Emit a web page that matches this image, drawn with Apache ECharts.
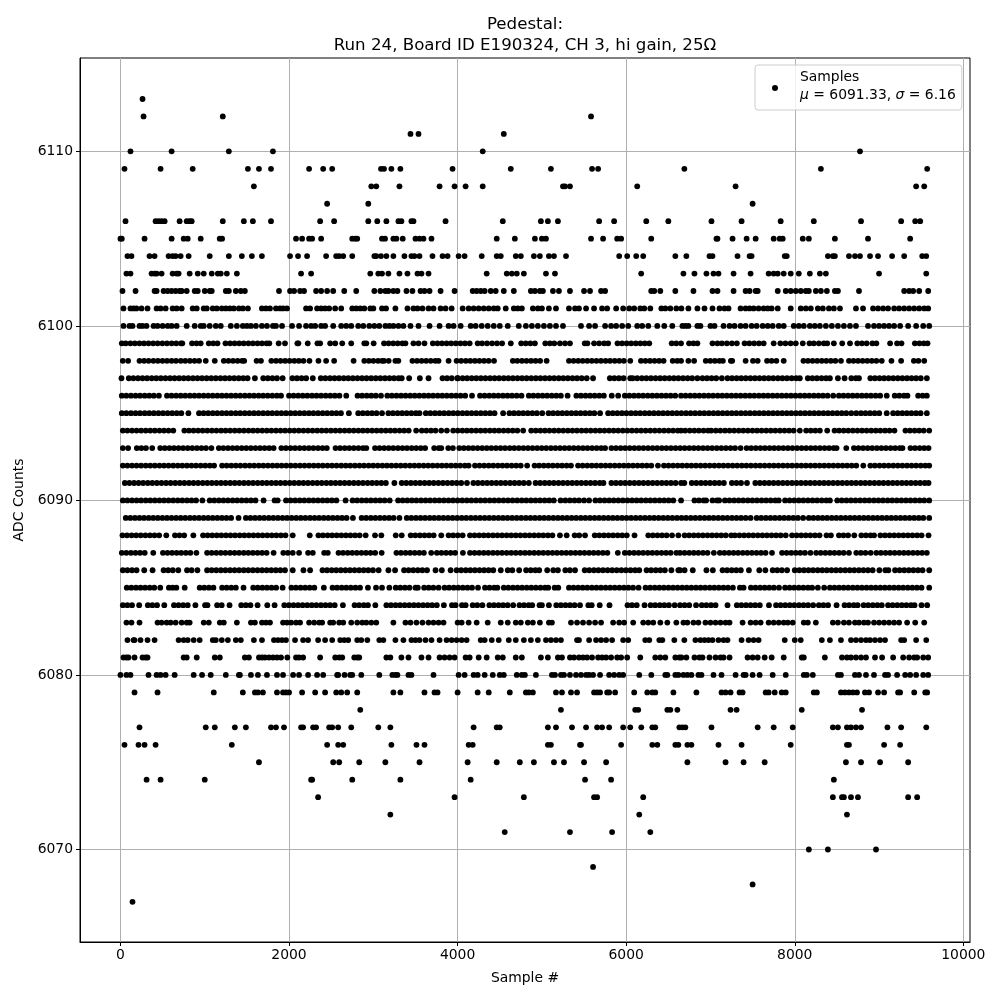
<!DOCTYPE html>
<html><head><meta charset="utf-8">
<style>html,body{margin:0;padding:0;background:#fff}#c{width:1000px;height:1000px}</style>
<script src="https://cdn.jsdelivr.net/npm/echarts@6/dist/echarts.min.js"></script>
</head><body><div id="c"></div>
<script>
const xTicks=[0,2000,4000,6000,8000,10000];
const yTicks=[6070,6080,6090,6100,6110];
const x6113=[262];
const x6112=[274,1214,5583];
const x6111=[3441,3536,4548];
const x6110=[119,607,1286,1809,4298,8774];
const x6109=[48,476,857,1512,1643,1786,2238,2405,2512,3091,3127,3214,3321,3940,4631,5107,5595,5667,6690,8310,9571];
const x6108=[1583,2976,3035,3310,3786,3964,4095,4298,5250,5274,5333,6131,7298,9440,9536];
const x6107=[2452,2940,7500];
const x6106=[60,417,452,488,524,702,786,821,845,1214,1464,1571,1786,2369,2535,2940,3047,3155,3298,3333,3452,3476,3857,4536,4988,5071,5190,5679,5857,6238,6500,7012,7369,7833,8226,8786,9262,9429,9488];
const x6105=[0,16,286,607,750,798,952,1178,1206,2083,2155,2238,2274,2381,2750,2785,2809,3103,3139,3238,3274,3349,3500,3548,3595,3690,4464,4679,4917,5000,5048,5583,5726,5893,5940,6297,7071,7083,7262,7429,7536,7750,7821,7857,8095,8167,8476,8869,9369];
const x6104=[83,131,345,405,571,619,655,714,809,1059,1286,1440,1559,1678,2012,2107,2214,2440,2559,2595,2643,2750,3012,3035,3091,3155,3238,3369,3452,3488,3548,3702,3821,3881,4012,4083,4286,4464,4512,4690,4750,4905,4976,5083,5143,5286,5917,6012,6119,6202,6583,6714,6988,7024,7321,7464,7488,7881,7905,8393,8452,8476,8643,8714,8774,8893,8988,9155,9298,9512,9560];
const x6103=[71,119,369,405,429,488,619,667,690,821,917,988,1083,1155,1190,1262,1381,2143,2262,2964,3059,3103,3179,3310,3405,3524,3571,3655,4345,4583,4643,4702,4786,5048,5155,6178,6679,6810,6952,7036,7095,7274,7476,7690,7750,7798,7869,7952,8048,8179,8298,8369,9000,9560];
const x6102=[24,179,405,429,512,560,607,655,702,726,786,881,917,1000,1059,1083,1250,1286,1369,1428,1476,1881,2012,2060,2131,2178,2321,2381,2452,2524,2655,2797,3012,3083,3143,3179,3238,3286,3393,3464,3560,3607,3667,3798,3964,4179,4226,4274,4321,4393,4452,4548,4667,4869,4917,4976,5012,5131,5202,5333,5500,5571,5702,5750,6297,6333,6405,6583,6798,7024,7083,7274,7417,7464,7536,7560,7798,7893,7952,8012,8071,8131,8167,8250,8310,8381,8476,8512,8762,9298,9357,9405,9476,9583];
const x6101=[36,119,155,190,250,321,429,476,536,619,667,726,857,905,988,1024,1095,1143,1202,1250,1298,1345,1405,1452,1512,1678,1726,1774,1845,1893,1929,1976,2202,2250,2333,2381,2428,2476,2547,2619,2750,2797,2845,2893,2964,3000,3103,3151,3262,3405,3476,3524,3583,3655,3714,3798,3857,3929,4060,4131,4190,4250,4310,4369,4429,4476,4571,4667,4714,4762,4893,4952,5000,5083,5167,5321,5393,5440,5524,5619,5714,5774,5881,5964,6036,6095,6167,6214,6286,6417,6464,6524,6595,6655,6738,6845,6929,7024,7107,7167,7214,7357,7417,7464,7512,7571,7631,7679,7726,7798,7952,8071,8131,8190,8274,8333,8405,8464,8536,8726,8810,8929,8988,9048,9107,9179,9238,9298,9357,9417,9476,9536,9583];
const x6100=[36,107,143,226,262,309,393,440,500,560,607,667,786,881,952,988,1059,1131,1190,1309,1381,1452,1500,1548,1607,1678,1738,1809,1845,1917,2036,2119,2202,2262,2310,2381,2428,2524,2619,2679,2738,2821,2881,2952,3012,3071,3143,3190,3238,3298,3357,3441,3536,3667,3786,3893,3952,4036,4155,4214,4286,4357,4429,4500,4595,4726,4810,4881,4952,5024,5095,5167,5250,5464,5560,5631,5750,5821,5881,5952,6024,6131,6190,6262,6369,6452,6547,6667,6702,6738,6845,6881,7000,7048,7155,7226,7286,7357,7417,7488,7548,7619,7679,7738,7810,7869,7988,8048,8107,8179,8238,8298,8369,8440,8512,8583,8655,8726,8869,8940,9000,9060,9119,9179,9250,9345,9440,9524,9595];
const x6099=[16,62,118,171,226,279,333,388,441,497,552,608,662,718,734,849,902,952,1048,1101,1151,1246,1301,1354,1409,1462,1518,1571,1626,1679,1733,1766,1877,1952,2099,2111,2222,2337,2369,2488,2548,2631,2738,2893,2917,3004,3127,3181,3236,3289,3344,3381,3476,3536,3607,3706,3761,3814,3869,3923,3978,4033,4087,4143,4238,4290,4349,4409,4468,4528,4631,4754,4808,4863,4917,5040,5095,5147,5214,5274,5333,5508,5540,5619,5679,5738,5786,5897,5951,6006,6059,6114,6168,6221,6274,6540,6594,6651,6746,6798,6845,7024,7083,7135,7194,7254,7313,7405,7461,7518,7575,7631,7750,7829,7889,7951,8012,8095,8175,8226,8286,8345,8385,8464,8563,8655,8742,8797,8853,8921,8968,9131,9214,9266,9425,9479,9531,9575];
const x6098=[28,91,226,281,334,391,444,499,553,607,659,716,769,824,879,933,1012,1119,1226,1281,1336,1390,1444,1468,1615,1667,1790,1846,1899,1954,2007,2063,2116,2171,2242,2349,2440,2535,2766,2893,2947,3001,3056,3103,3127,3182,3262,3297,3464,3519,3573,3627,3681,3736,3774,3893,3988,4042,4098,4151,4205,4259,4314,4368,4432,4655,4708,4763,4817,4871,4925,4979,5056,5321,5376,5431,5484,5539,5592,5647,5701,5756,5809,5864,5918,5972,6048,6175,6229,6283,6337,6391,6444,6552,6606,6651,6738,6806,6944,6998,7052,7106,7147,7242,7258,7417,7504,7560,7671,7725,7782,7869,8103,8157,8211,8266,8320,8374,8428,8482,8548,8643,8697,8751,8805,8860,8914,8968,9032,9147,9262,9413,9467,9536];
const x6097=[12,99,153,208,262,316,371,425,479,534,588,642,697,751,805,860,914,968,1023,1077,1131,1186,1240,1294,1349,1403,1457,1508,1595,1694,1748,1803,1857,1924,2040,2094,2149,2203,2282,2377,2431,2486,2540,2594,2649,2703,2757,2812,2866,2920,2975,3029,3083,3138,3192,3246,3300,3337,3425,3552,3655,3821,3875,3930,3996,4004,4059,4113,4167,4222,4276,4330,4385,4439,4493,4548,4602,4656,4711,4765,4819,4874,4928,4982,5037,5091,5145,5200,5254,5308,5363,5417,5472,5532,5607,5806,5860,5914,5969,6048,6077,6131,6186,6240,6294,6349,6403,6457,6512,6566,6620,6675,6729,6783,6845,6905,6959,7013,7068,7135,7202,7256,7311,7365,7419,7474,7528,7582,7637,7691,7745,7800,7854,7908,7963,8017,8060,8155,8209,8263,8318,8372,8417,8512,8591,8671,8725,8762,8897,8951,9006,9060,9114,9169,9223,9277,9332,9386,9440,9495,9567];
const x6096=[16,70,125,179,233,288,342,396,456,552,606,661,715,769,824,878,932,987,1041,1095,1150,1204,1258,1313,1367,1421,1476,1530,1584,1639,1693,1747,1802,1856,1905,2000,2054,2109,2163,2217,2272,2326,2380,2435,2489,2543,2598,2679,2813,2867,2922,2976,3030,3091,3166,3220,3275,3329,3383,3438,3492,3546,3601,3655,3709,3764,3818,3872,3927,3981,4035,4090,4171,4266,4320,4375,4429,4483,4538,4592,4646,4701,4758,4845,4899,4954,5008,5062,5117,5171,5225,5305,5409,5463,5518,5572,5626,5681,5735,5829,5905,5984,6038,6093,6147,6201,6256,6310,6364,6419,6473,6527,6582,6651,6705,6760,6814,6868,6923,6977,7031,7086,7140,7194,7249,7303,7357,7412,7466,7520,7575,7629,7683,7738,7792,7846,7901,7955,8009,8064,8118,8172,8227,8281,8335,8390,8456,8524,8578,8633,8687,8741,8796,8850,8904,8959,9013,9091,9186,9240,9295,9337,9464,9518,9567];
const x6095=[16,70,125,179,233,288,342,396,451,505,559,614,668,722,806,932,986,1041,1095,1149,1204,1258,1312,1367,1421,1475,1530,1584,1638,1693,1747,1801,1856,1910,1964,2019,2073,2127,2182,2236,2290,2345,2399,2453,2508,2562,2616,2710,2821,2875,2930,2984,3038,3103,3179,3233,3288,3342,3396,3451,3505,3548,3623,3677,3732,3786,3840,3895,3949,4003,4058,4112,4166,4221,4275,4329,4384,4438,4540,4615,4669,4724,4778,4832,4887,4941,5004,5079,5133,5188,5242,5296,5351,5405,5459,5514,5568,5622,5690,5786,5840,5895,5949,6003,6058,6112,6166,6221,6275,6329,6384,6438,6492,6547,6601,6655,6710,6764,6818,6873,6927,6981,7036,7090,7144,7199,7253,7307,7362,7416,7470,7525,7579,7633,7688,7742,7796,7851,7905,7959,8014,8068,8122,8177,8231,8285,8340,8394,8448,8503,8557,8611,8671,8730,8785,8839,8893,8948,9002,9091,9167,9221,9276,9330,9384,9439,9493,9567];
const x6094=[28,82,137,191,245,300,354,408,463,517,571,627,758,812,867,921,975,1030,1084,1138,1193,1247,1301,1356,1410,1464,1519,1573,1627,1682,1736,1790,1845,1899,1953,2008,2062,2116,2171,2225,2279,2334,2388,2442,2497,2551,2605,2660,2714,2768,2823,2877,2931,2986,3040,3094,3149,3203,3257,3312,3366,3420,3508,3575,3629,3684,3738,3806,3873,3948,4002,4057,4111,4165,4220,4274,4328,4383,4437,4491,4546,4600,4654,4709,4778,4873,4927,4982,5036,5090,5145,5199,5253,5308,5362,5416,5471,5525,5579,5634,5688,5742,5797,5851,5905,5960,6014,6068,6123,6177,6231,6286,6340,6394,6449,6503,6557,6612,6651,6700,6755,6809,6863,6918,6972,7008,7063,7117,7172,7226,7280,7335,7389,7443,7498,7552,7606,7661,7715,7769,7824,7878,7932,7987,8060,8135,8189,8244,8298,8385,8472,8526,8581,8635,8689,8744,8798,8852,8907,8961,9015,9070,9124,9183,9313,9367,9422,9476,9530,9595];
const x6093=[28,91,194,248,303,377,472,526,581,635,689,744,798,852,907,961,1015,1079,1167,1221,1276,1330,1384,1439,1493,1547,1602,1656,1710,1765,1817,1909,1963,2018,2072,2126,2181,2235,2289,2344,2398,2448,2552,2606,2661,2715,2769,2824,2878,2917,3020,3074,3129,3183,3237,3292,3346,3400,3455,3509,3563,3615,3722,3776,3806,3889,3944,4020,4074,4129,4183,4237,4292,4346,4400,4455,4509,4563,4618,4672,4726,4781,4835,4889,4944,4998,5052,5107,5161,5215,5270,5324,5378,5433,5487,5541,5596,5650,5704,5750,5825,5879,5934,5988,6042,6097,6151,6205,6260,6314,6368,6423,6477,6531,6586,6640,6694,6749,6803,6857,6912,6966,7020,7075,7129,7183,7238,7292,7357,7429,7483,7538,7592,7646,7701,7755,7809,7864,7918,7972,8027,8081,8135,8190,8244,8298,8353,8407,8461,8496,8611,8702,8756,8811,8865,8919,8974,9028,9082,9137,9191,9245,9278,9373,9427,9482,9536,9587];
const x6092=[28,82,137,191,245,300,354,408,463,517,571,626,680,734,789,843,897,952,1006,1060,1111,1206,1260,1315,1369,1423,1478,1532,1586,1641,1695,1749,1804,1858,1912,1967,2021,2075,2130,2184,2238,2293,2347,2401,2456,2510,2564,2619,2673,2727,2782,2836,2890,2945,2999,3053,3108,3162,3216,3271,3325,3379,3434,3488,3542,3597,3651,3705,3760,3814,3868,3923,3977,4031,4086,4131,4206,4260,4315,4369,4423,4478,4532,4586,4641,4695,4749,4825,4913,4967,5022,5076,5130,5185,5239,5293,5345,5429,5483,5538,5592,5646,5701,5755,5809,5864,5918,5972,6027,6081,6135,6190,6244,6298,6377,6448,6502,6557,6611,6665,6720,6774,6828,6883,6937,6991,7046,7100,7154,7209,7263,7317,7372,7426,7480,7535,7589,7643,7698,7752,7806,7861,7915,7969,8024,8078,8132,8187,8241,8295,8350,8404,8458,8513,8567,8621,8676,8730,8813,8897,8951,9006,9060,9114,9169,9223,9277,9332,9386,9440,9495,9549,9595];
const x6091=[52,106,161,215,269,324,378,432,487,541,595,650,704,758,813,867,921,976,1030,1084,1139,1193,1247,1302,1356,1410,1465,1519,1573,1628,1682,1736,1791,1845,1899,1954,2008,2062,2117,2171,2225,2280,2334,2388,2443,2497,2551,2606,2660,2714,2769,2823,2877,2932,2986,3040,3095,3149,3250,3337,3391,3446,3500,3554,3609,3663,3717,3772,3826,3880,3935,3989,4043,4111,4187,4241,4296,4350,4404,4459,4513,4567,4622,4676,4730,4785,4845,4925,4979,5034,5088,5142,5197,5251,5305,5360,5414,5468,5523,5577,5631,5686,5730,5825,5879,5934,5988,6042,6097,6151,6205,6260,6314,6368,6423,6477,6531,6586,6651,6690,6778,6832,6887,6941,6995,7050,7104,7159,7254,7308,7363,7433,7532,7586,7641,7695,7749,7804,7858,7912,7967,8021,8075,8130,8184,8238,8293,8347,8401,8456,8510,8564,8619,8673,8727,8782,8836,8890,8945,8999,9053,9108,9162,9216,9271,9325,9379,9434,9488,9542,9587];
const x6090=[28,82,137,191,245,300,354,408,463,517,571,626,680,734,789,843,897,972,1059,1113,1168,1222,1276,1331,1385,1439,1494,1548,1602,1698,1829,1865,1964,2018,2073,2127,2181,2236,2290,2344,2399,2453,2507,2562,2671,2754,2808,2863,2917,2971,3026,3080,3134,3194,3294,3348,3403,3457,3511,3566,3620,3674,3729,3783,3837,3892,3946,4000,4055,4109,4163,4218,4272,4326,4381,4435,4489,4544,4598,4652,4707,4761,4815,4870,4924,4978,5033,5087,5141,5222,5278,5332,5387,5441,5500,5560,5635,5689,5744,5798,5852,5907,5961,6015,6070,6124,6178,6233,6287,6341,6396,6450,6504,6559,6651,6810,6864,6919,6948,7024,7078,7103,7171,7225,7280,7334,7388,7443,7497,7551,7606,7660,7714,7769,7810,7885,7939,7994,8048,8102,8157,8211,8265,8320,8374,8417,8504,8558,8613,8667,8721,8776,8830,8884,8939,8993,9047,9102,9156,9210,9265,9319,9373,9428,9482,9536,9595];
const x6089=[63,117,172,226,280,335,389,443,498,552,606,661,715,769,824,878,932,987,1041,1095,1150,1204,1258,1313,1401,1488,1542,1597,1651,1705,1760,1814,1868,1923,1977,2031,2086,2140,2194,2249,2303,2357,2412,2466,2520,2575,2629,2683,2758,2861,2915,2970,3024,3078,3133,3187,3241,3310,3397,3451,3506,3560,3614,3669,3723,3777,3832,3886,3940,3995,4049,4103,4158,4212,4266,4321,4375,4429,4484,4538,4592,4647,4701,4755,4810,4864,4918,4973,5027,5081,5136,5190,5244,5299,5353,5407,5462,5516,5570,5625,5679,5733,5788,5842,5896,5951,6005,6059,6114,6168,6222,6277,6331,6385,6440,6494,6548,6603,6657,6711,6766,6820,6874,6929,6983,7037,7092,7146,7200,7255,7309,7363,7418,7476,7548,7602,7657,7711,7765,7820,7874,7928,7983,8037,8099,8167,8221,8276,8330,8384,8439,8493,8547,8602,8656,8710,8765,8819,8873,8928,8982,9036,9091,9145,9199,9254,9308,9362,9417,9471,9525,9595];
const x6088=[24,78,133,187,241,296,350,404,459,544,647,701,756,865,980,1034,1089,1143,1197,1252,1306,1360,1415,1469,1523,1578,1632,1686,1741,1795,1849,1904,1958,2044,2246,2349,2403,2458,2512,2566,2621,2675,2729,2784,2838,2909,3020,3095,3266,3337,3444,3498,3553,3607,3661,3716,3806,3893,3947,4002,4060,4147,4201,4256,4310,4364,4419,4473,4527,4582,4636,4690,4745,4799,4853,4908,4962,5016,5071,5125,5214,5294,5389,5443,5512,5627,5681,5736,5790,5844,5899,5953,6007,6099,6262,6316,6371,6425,6479,6544,6619,6693,6747,6802,6856,6910,6965,7019,7073,7128,7182,7246,7290,7344,7399,7453,7507,7562,7616,7670,7725,7779,7833,7893,7968,8022,8077,8131,8185,8240,8294,8377,8429,8524,8578,8633,8706,8790,8844,8899,8941,9016,9070,9125,9179,9233,9288,9342,9396,9451,9505,9587];
const x6087=[16,70,125,179,233,288,389,504,558,613,667,721,776,830,901,1028,1082,1137,1191,1245,1300,1354,1408,1463,1517,1571,1626,1680,1734,1817,1932,1986,2044,2119,2226,2282,2417,2460,2587,2641,2696,2750,2804,2859,2913,2967,3022,3099,3274,3328,3383,3437,3491,3546,3600,3687,3754,3808,3863,3917,3971,4063,4147,4201,4256,4310,4364,4419,4473,4527,4582,4636,4690,4745,4799,4853,4908,4962,5016,5071,5125,5179,5234,5288,5342,5397,5451,5505,5560,5614,5668,5723,5777,5901,5984,6038,6093,6147,6201,6256,6310,6364,6419,6473,6527,6595,6639,6693,6748,6802,6856,6911,6965,7040,7111,7165,7220,7274,7328,7383,7437,7491,7546,7600,7654,7730,7849,7903,7958,8012,8066,8121,8186,8254,8308,8363,8417,8471,8526,8580,8643,8730,8784,8839,8901,8968,9022,9077,9131,9185,9240,9294,9348,9403,9457,9511,9567];
const x6086=[28,82,137,191,282,381,512,566,621,686,790,844,913,1028,1082,1137,1191,1245,1300,1354,1408,1463,1517,1571,1626,1680,1734,1789,1843,1897,1952,2044,2171,2250,2397,2451,2506,2560,2614,2669,2723,2777,2832,2886,2940,2996,3063,3179,3258,3365,3419,3474,3528,3582,3637,3738,3813,3917,3988,4042,4097,4151,4205,4260,4314,4368,4423,4512,4595,4649,4730,4813,4867,4922,4968,5063,5135,5190,5278,5332,5393,5508,5562,5617,5671,5725,5780,5834,5888,5943,5997,6051,6106,6155,6242,6296,6351,6405,6459,6536,6619,6639,6693,6790,6952,7028,7143,7197,7252,7306,7360,7456,7579,7651,7738,7792,7847,7909,8000,8054,8109,8163,8217,8272,8326,8380,8435,8489,8543,8598,8652,8706,8761,8815,8869,8924,9004,9075,9111,9190,9244,9299,9353,9407,9462,9516,9595];
const x6085=[75,129,184,238,292,347,401,472,575,619,663,762,940,994,1049,1103,1206,1260,1315,1369,1460,1575,1629,1684,1738,1792,1847,1924,2028,2082,2137,2191,2245,2300,2413,2516,2570,2625,2679,2733,2788,2842,2936,3032,3103,3190,3266,3320,3375,3429,3500,3528,3603,3657,3712,3774,3845,3899,3954,4008,4062,4117,4171,4242,4325,4379,4434,4472,4548,4602,4657,4711,4765,4820,4874,4928,4983,5037,5075,5151,5194,5321,5375,5430,5484,5538,5593,5647,5701,5756,5810,5864,5919,5973,6027,6082,6147,6230,6284,6339,6393,6447,6502,6556,6610,6665,6719,6773,6828,6882,6936,6991,7045,7099,7154,7208,7266,7349,7393,7480,7534,7589,7643,7697,7752,7813,7885,7939,7994,8048,8102,8157,8206,8274,8349,8417,8471,8526,8580,8634,8689,8743,8797,8852,8906,8960,9015,9069,9123,9178,9232,9286,9341,9395,9449,9504,9595];
const x6084=[28,82,137,222,325,379,434,520,635,689,744,798,889,1004,1032,1147,1201,1294,1433,1487,1542,1627,1742,1829,1944,1998,2053,2107,2161,2216,2270,2324,2379,2433,2487,2542,2639,2778,2832,2887,2936,3024,3155,3209,3264,3318,3372,3427,3481,3535,3590,3644,3698,3753,3837,3933,3976,4052,4095,4179,4233,4294,4377,4431,4486,4540,4594,4659,4734,4788,4843,4885,4972,5000,5083,5171,5225,5280,5334,5388,5452,5551,5591,5686,5802,6016,6070,6125,6218,6290,6344,6399,6453,6507,6575,6639,6693,6748,6829,6897,6951,7006,7060,7202,7313,7367,7422,7476,7530,7585,7694,7778,7832,7887,7941,7995,8050,8104,8158,8218,8286,8340,8395,8496,8591,8645,8700,8746,8817,8871,8926,8980,9032,9107,9161,9216,9270,9324,9379,9421,9504,9571];
const x6083=[71,131,226,440,488,548,595,655,726,786,821,988,1048,1179,1226,1381,1548,1595,1679,1726,1774,1929,1976,2024,2083,2131,2238,2298,2357,2393,2488,2524,2595,2643,2738,2809,2869,2917,2976,3035,3238,3381,3441,3512,3583,3655,3714,3774,3833,4000,4048,4131,4226,4357,4512,4595,4690,4750,4833,4893,4976,5083,5119,5345,5417,5488,5560,5631,5702,5845,5917,5976,6083,6202,6262,6321,6405,6488,6595,6679,6726,6798,6857,6940,7000,7060,7119,7179,7226,7381,7476,7536,7595,7690,7750,7810,7869,7917,7976,8107,8155,8250,8452,8512,8583,8643,8714,8762,8821,8869,8940,9000,9060,9119,9179,9238,9333,9429,9536];
const x6082=[83,155,167,238,321,405,690,750,798,869,940,1095,1131,1202,1274,1369,1428,1583,1679,1821,1869,1917,1964,2071,2167,2226,2345,2428,2512,2607,2655,2702,2809,2857,2929,3071,3119,3262,3357,3452,3500,3548,3619,3690,3786,3869,3929,3988,4048,4107,4274,4321,4405,4488,4607,4690,4786,4869,4952,5048,5107,5167,5226,5417,5440,5560,5643,5702,5762,5833,5964,6024,6226,6274,6393,6429,6571,6690,6821,6881,6929,6976,7024,7095,7155,7202,7369,7452,7512,7571,7881,8000,8071,8321,8417,8548,8667,8726,8786,8845,8893,8952,9012,9071,9262,9298,9440,9560];
const x6081=[36,71,95,167,262,298,321,750,786,905,1119,1179,1476,1524,1643,1679,1714,1762,1810,1857,1905,1980,2083,2119,2167,2369,2548,2595,2631,2774,2809,2833,3155,3202,3333,3417,3571,3655,3786,3845,3905,3964,4095,4143,4250,4345,4476,4536,4690,4762,4988,5071,5190,5238,5333,5381,5440,5488,5536,5595,5667,5714,5762,5821,5893,5940,6012,6167,6345,6405,6464,6583,6631,6655,6714,6810,6869,6905,6988,7060,7119,7155,7226,7440,7500,7560,7643,7726,7869,8083,8107,8357,8560,8619,8667,8726,8786,8845,8952,9036,9167,9286,9357,9417,9452,9524,9583];
const x6080=[0,71,119,333,429,476,536,643,869,968,1071,1250,1405,1417,1548,1631,1738,1857,1929,2048,2119,2226,2333,2405,2571,2583,2659,2726,2750,2857,3071,3226,3262,3286,3417,3452,3714,4012,4083,4190,4238,4321,4417,4500,4548,4702,4762,4798,4929,5119,5155,5226,5262,5333,5405,5464,5524,5560,5607,5690,5798,5857,5917,5964,6155,6298,6464,6488,6583,6619,6679,6726,6774,6857,6893,7036,7131,7298,7393,7417,7500,7583,7738,7893,8107,8143,8214,8512,8548,8714,8762,8845,8940,9071,9107,9214,9310,9369,9440,9524,9583];
const x6079=[167,440,1107,1452,1595,1631,1690,1857,1929,1964,2000,2155,2310,2428,2560,2619,2690,2809,3238,3321,3607,3726,3762,4000,4238,4369,4619,4810,4845,4893,5167,5238,5345,5417,5619,5655,5690,5774,5798,5869,6095,6250,6310,6345,6560,6833,7131,7179,7238,7345,7381,7655,7690,7762,7845,7893,8226,8262,8548,8595,8643,8690,8738,8833,8881,8988,9060,9226,9250,9417,9548,9571];
const x6078=[2845,5226,6107,6143,6488,6524,6607,7238,7310,8083,8798];
const x6077=[226,1012,1119,1357,1488,1786,1845,1940,2143,2167,2286,2321,2476,2512,2583,2738,3059,3202,4190,4464,4500,5071,5167,5357,5524,5655,5714,5798,5964,6048,6179,6310,6345,6631,6667,6702,7012,7560,7750,7976,8452,8512,8619,8667,8726,8786,9099,9262,9560];
const x6076=[48,214,286,417,1321,2452,2583,2643,3214,3512,3607,4131,4179,5071,5107,5452,5464,5940,6310,6369,6583,6619,6726,6774,7095,7369,7952,8619,8643,9060,9250];
const x6075=[1643,2524,2595,2833,3143,3548,4119,4464,4738,4905,5143,5262,5500,5762,6726,7179,7393,7643,8607,8786,9012,9345];
const x6074=[310,476,1000,2262,2274,2750,3321,4155,5512,5821,8464];
const x6073=[2345,3964,4786,5619,5655,6202,8452,8560,8583,8667,8750,9345,9452];
const x6072=[3202,6155,8619];
const x6071=[4559,5333,5833,6286];
const x6070=[8167,8393,8964];
const x6069=[5607];
const x6068=[7500];
const x6067=[143];

const levels=[[6113,x6113],[6112,x6112],[6111,x6111],[6110,x6110],[6109,x6109],[6108,x6108],[6107,x6107],[6106,x6106],[6105,x6105],[6104,x6104],[6103,x6103],[6102,x6102],[6101,x6101],[6100,x6100],[6099,x6099],[6098,x6098],[6097,x6097],[6096,x6096],[6095,x6095],[6094,x6094],[6093,x6093],[6092,x6092],[6091,x6091],[6090,x6090],[6089,x6089],[6088,x6088],[6087,x6087],[6086,x6086],[6085,x6085],[6084,x6084],[6083,x6083],[6082,x6082],[6081,x6081],[6080,x6080],[6079,x6079],[6078,x6078],[6077,x6077],[6076,x6076],[6075,x6075],[6074,x6074],[6073,x6073],[6072,x6072],[6071,x6071],[6070,x6070],[6069,x6069],[6068,x6068],[6067,x6067]];
const points=[];
levels.forEach(([y,xs])=>xs.forEach(x=>points.push([x,y])));

const F='"DejaVu Sans"';
const chart=echarts.init(document.getElementById('c'),null,{renderer:'canvas'});
const axisCommon={
  axisLine:{show:true,onZero:false,lineStyle:{color:'#000',width:1}},
  splitLine:{show:true,lineStyle:{color:'#b0b0b0',width:1}},
  nameTextStyle:{color:'#000',fontFamily:F,fontSize:13.9},
  nameLocation:'middle'
};
chart.setOption({
  animation:false,
  backgroundColor:'#fff',
  title:{
    text:'Pedestal:\nRun 24, Board ID E190324, CH 3, hi gain, 25Ω',
    left:520,top:9,textAlign:'center',
    textStyle:{color:'#000',fontFamily:F,fontSize:16.67,fontWeight:'normal',lineHeight:21}
  },
  legend:{
    show:true,left:755,top:65,orient:'vertical',
    padding:[3,6,2,17],
    itemWidth:6,itemHeight:6,icon:'circle',
    backgroundColor:'rgba(255,255,255,0.8)',borderColor:'#cccccc',borderWidth:1,borderRadius:3,
    data:['Samples'],
    formatter:()=>'Samples\n{i|μ} = 6091.33, {i|σ} = 6.16',
    textStyle:{color:'#000',fontFamily:F,fontSize:13.9,lineHeight:18,padding:[0,0,4,17],
      rich:{i:{fontStyle:'italic',fontFamily:F,fontSize:13.9,color:'#000',lineHeight:18}}}
  },
  grid:{left:80,right:30,top:58,bottom:58,show:true,borderColor:'#000',borderWidth:1,backgroundColor:'transparent',containLabel:false},
  xAxis:Object.assign({},axisCommon,{
    type:'value',min:-480,max:10079,name:'Sample #',nameGap:29,
    axisTick:{show:true,length:4,lineStyle:{color:'#000',width:1},customValues:xTicks},
    axisLabel:{color:'#000',fontFamily:F,fontSize:13.9,margin:6,customValues:xTicks,formatter:v=>String(v)}
  }),
  yAxis:Object.assign({},axisCommon,{
    type:'value',min:6064.7,max:6115.35,name:'ADC Counts',nameGap:51,
    axisTick:{show:true,length:4,lineStyle:{color:'#000',width:1},customValues:yTicks},
    axisLabel:{color:'#000',fontFamily:F,fontSize:13.9,margin:7,customValues:yTicks,formatter:v=>String(v)}
  }),
  series:[{name:'Samples',type:'scatter',symbol:'circle',symbolSize:5.8,itemStyle:{color:'#000',opacity:1},data:points,large:false,silent:true,clip:false}]
});
</script></body></html>
